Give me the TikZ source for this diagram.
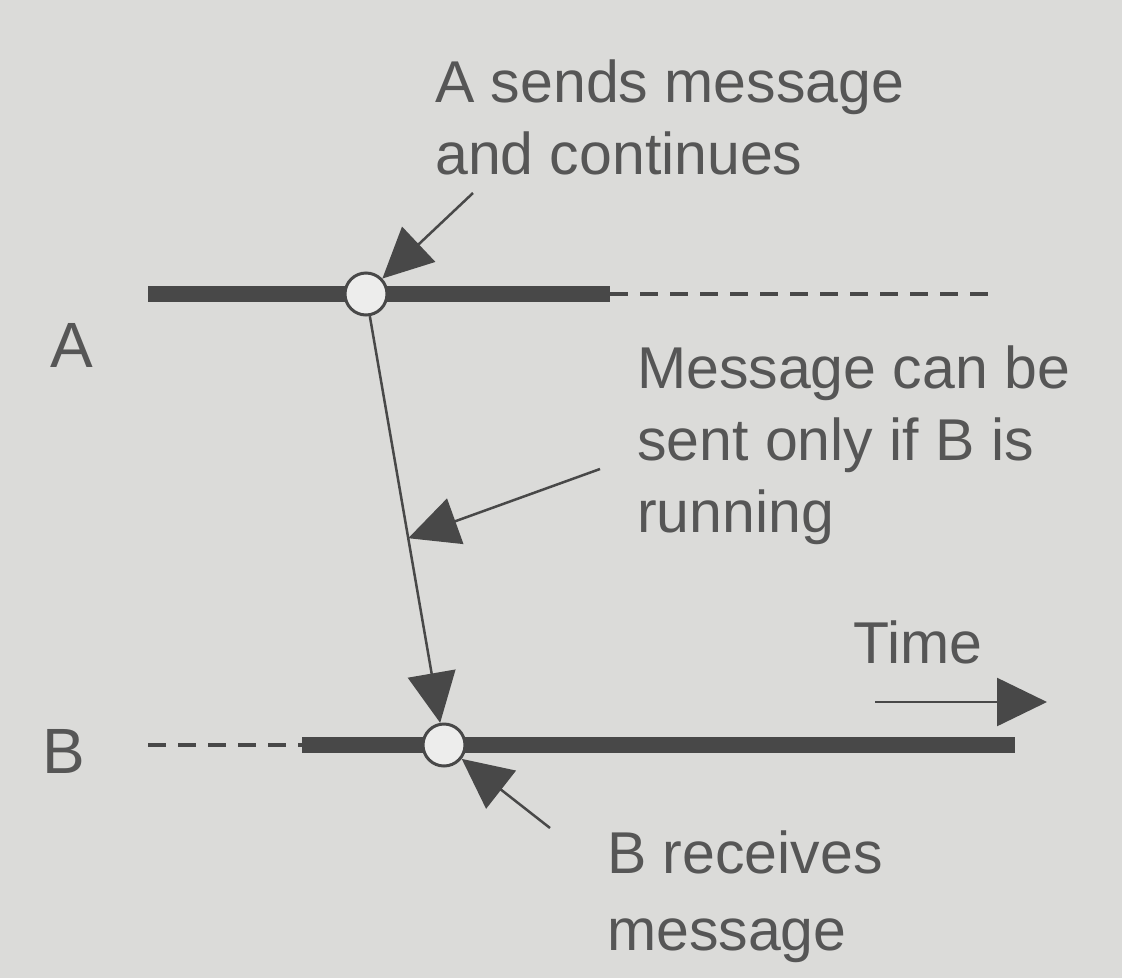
\documentclass[tikz,border=0pt]{standalone}
\usepackage{fontspec}
\setmainfont{Liberation Sans}
\usetikzlibrary{arrows.meta}
\definecolor{paper}{RGB}{219,219,217}
\definecolor{ink}{RGB}{72,72,72}
\definecolor{txt}{RGB}{86,86,86}
\tikzset{
  bar/.style={ink, line width=16pt},
  idle/.style={ink, line width=4pt, dash pattern=on 18pt off 12pt},
  evt/.style={circle, draw=ink, line width=3pt, fill=paper!50!white, minimum size=42pt, inner sep=0pt},
  msg/.style={ink, line width=2.5pt, -{Triangle[length=50pt,width=48pt]}},
  lbl/.style={txt, font=\fontsize{59}{72}\selectfont, align=left, inner sep=0pt, anchor=base west},
}

\begin{document}
\begin{tikzpicture}[x=1pt,y=-1pt]
  \useasboundingbox (0,0) rectangle (1122,978);
  \fill[paper] (0,0) rectangle (1122,978);
  \coordinate (a0) at (148,294); \coordinate (a1) at (610,294); \coordinate (a2) at (995,294);
  \coordinate (b0) at (148,745); \coordinate (b1) at (302,745); \coordinate (b2) at (1015,745);
  \draw[bar] (a0) -- (a1); \draw[idle] (a1) -- (a2);
  \draw[idle] (b0) -- (b1); \draw[bar] (b1) -- (b2);
  \node[evt] (send) at (366,294) {};
  \node[evt] (recv) at (444,745) {};
  \draw[msg] (send) -- coordinate[pos=0.546] (mid) (recv);
  \coordinate (noteA) at (473,193);
  \coordinate (noteM) at (600,469);
  \coordinate (noteB) at (550,828);
  \draw[msg] (noteA) -- (send);
  \draw[msg] (noteM) -- (mid);
  \draw[msg] (noteB) -- (recv);
  \coordinate (t0) at (875,702); \coordinate (t1) at (1047,702);
  \draw[msg] (t0) -- (t1);
  \node[lbl] (sendtxt) at (435,174) {A sends message\\and continues};
  \node[lbl] (runtxt) at (637,532) {Message can be\\sent only if B is\\running};
  \node[lbl, font=\fontsize{59}{77}\selectfont] (recvtxt) at (607,950) {B receives\\message};
  \node[lbl] (timetxt) at (853,663) {Time};
  \node[lbl, font=\fontsize{64}{72}\selectfont] (nameA) at (50,367) {A};
  \node[lbl, font=\fontsize{64}{72}\selectfont] (nameB) at (42,773) {B};
\end{tikzpicture}
\end{document}
